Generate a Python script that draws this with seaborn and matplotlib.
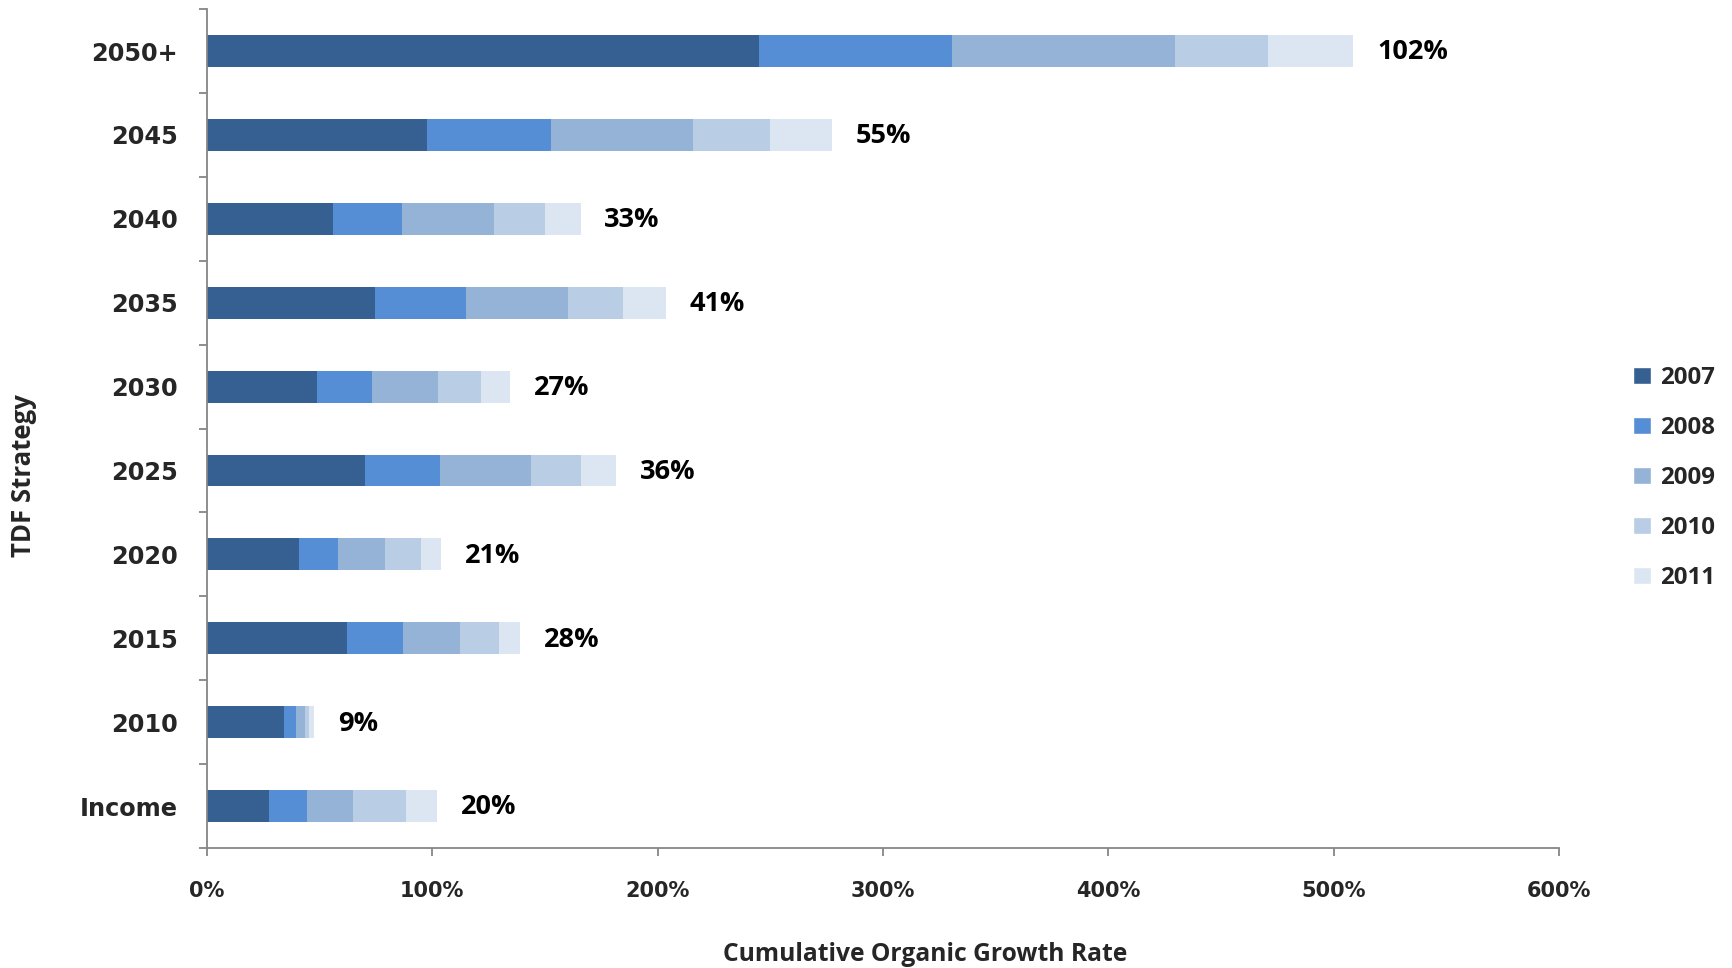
import numpy as np
import pandas as pd
import matplotlib
matplotlib.use("Agg")
import matplotlib.pyplot as plt
from matplotlib.patches import Patch
import seaborn as sns

# %% data
strategies = ["2050+", "2045", "2040", "2035", "2030", "2025", "2020", "2015", "2010", "Income"]
years = ["2007", "2008", "2009", "2010", "2011"]

y2007 = [244.9, 97.5, 56.0, 74.7, 48.9, 70.3, 40.8, 62.2, 34.3, 27.5]
y2008 = [85.9, 55.4, 30.6, 40.4, 24.5, 33.3, 17.3, 24.8, 5.4, 17.0]
y2009 = [98.9, 62.8, 40.8, 45.2, 29.2, 40.4, 21.0, 25.4, 3.8, 20.4]
y2010 = [41.1, 34.3, 22.7, 24.5, 19.0, 22.1, 15.7, 17.4, 1.7, 23.4]
y2011 = [38.0, 27.2, 15.7, 19.0, 12.9, 15.6, 9.1, 9.1, 2.4, 13.9]

bar_labels = ["102%", "55%", "33%", "41%", "27%", "36%", "21%", "28%", "9%", "20%"]

colors = ["#366092", "#558ED5", "#95B3D7", "#B9CDE5", "#DCE6F2"]

# %% table + cumulative sums for stacking
df = pd.DataFrame({"strategy": strategies, "2007": y2007, "2008": y2008,
                   "2009": y2009, "2010": y2010, "2011": y2011})
cum = df[years].cumsum(axis=1)
cum["strategy"] = df["strategy"]

# %% plot
sns.set_style("white")
plt.rcParams["font.family"] = ["DejaVu Sans"]
calibri_ish = "Open Sans"

fig = plt.figure(figsize=(17.33, 9.68), dpi=100)
ax = fig.add_axes([0.1194, 0.124, 0.7802, 0.8666])

# draw longest cumulative bar first, shorter ones on top
for yr, col in zip(years[::-1], colors[::-1]):
    sns.barplot(data=cum, x=yr, y="strategy", order=strategies, orient="h",
                color=col, saturation=1, width=0.38, linewidth=0, ax=ax)

# total labels
for i, (tot, lab) in enumerate(zip(cum["2011"], bar_labels)):
    ax.annotate(lab, xy=(tot, i), xytext=(17, -1), textcoords="offset points",
                va="center", ha="left", fontsize=19.5, fontweight="bold",
                family=calibri_ish, color="black")

ax.set_xlim(0, 600)
ax.set_xticks(np.arange(0, 601, 100))
ax.set_xticklabels([f"{v}%" for v in range(0, 601, 100)],
                   fontsize=15, fontweight="bold")
ax.set_ylim(9.5, -0.5)
ax.set_yticks(range(len(strategies)))
ax.set_yticklabels(strategies, fontsize=17.3, fontweight="bold")
ax.set_yticks(np.arange(-0.5, len(strategies), 1), minor=True)

ax.tick_params(axis="y", which="major", length=0, pad=21)
ax.tick_params(axis="y", which="minor", length=6, width=1.3, color="#868686", direction="out", left=True)
ax.tick_params(axis="x", which="major", length=6, width=1.3, color="#868686", direction="out", bottom=True, pad=18)

for s in ["top", "right"]:
    ax.spines[s].set_visible(False)
for s in ["left", "bottom"]:
    ax.spines[s].set_color("#868686")
    ax.spines[s].set_linewidth(1.3)

ax.set_xlabel("Cumulative Organic Growth Rate", fontsize=17.7, fontweight="bold",
              family=calibri_ish)
ax.xaxis.set_label_coords(0.531, -0.112)
ax.set_ylabel("TDF Strategy", fontsize=18.5, fontweight="bold", family=calibri_ish)
ax.yaxis.set_label_coords(-0.126, 0.444)

handles = [Patch(facecolor=c, label=y) for y, c in zip(years, colors)]
fig.legend(handles=handles, loc="center left", bbox_to_anchor=(0.930, 0.506),
           frameon=False, prop={"family": calibri_ish, "weight": "bold", "size": 17.3},
           handlelength=0.72, handleheight=0.72, handletextpad=0.4, labelspacing=1.08)

fig.savefig("out.png", dpi=100)
